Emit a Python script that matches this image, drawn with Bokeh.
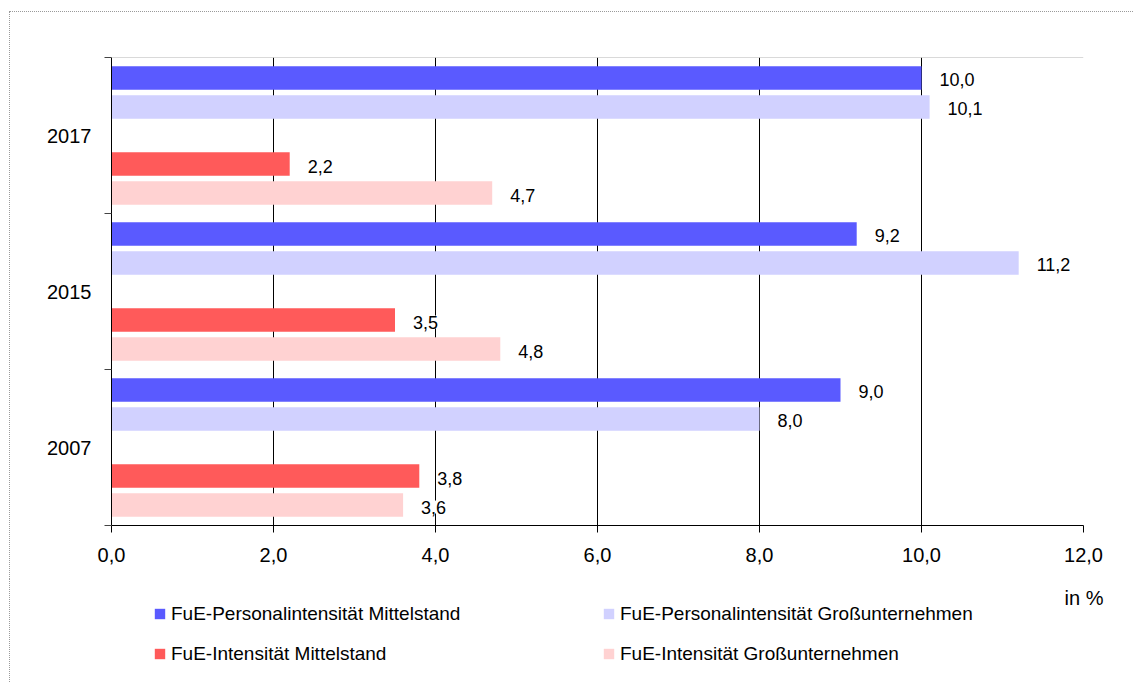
from bokeh.plotting import figure
from bokeh.layouts import column
from bokeh.models import (Range1d, FixedTicker, ColumnDataSource, LabelSet, Legend,
                          LegendItem, Span, Label, CustomJSTickFormatter)
from bokeh.core.properties import value
from bokeh.transform import dodge
from bokeh.embed import file_html
from bokeh.resources import INLINE

# ---- data ----
years = ["2007", "2015", "2017"]
pers_mittel = [9.0, 9.2, 10.0]
pers_gross = [8.0, 11.2, 10.1]
int_mittel = [3.8, 3.5, 2.2]
int_gross = [3.6, 4.8, 4.7]
series_keys = ["pers_mittel", "pers_gross", "int_mittel", "int_gross"]
series_names = ["FuE-Personalintensität Mittelstand",
                "FuE-Personalintensität Großunternehmen",
                "FuE-Intensität Mittelstand",
                "FuE-Intensität Großunternehmen"]
colors = ["#5a5aff", "#d1d1ff", "#ff5a5a", "#ffd2d2"]
x_ticks = [0, 2, 4, 6, 8, 10, 12]
unit_label = "in %"

FONT = "Liberation Sans"
BORDER = "1px dotted #9a9a9a"

def fmt(v):
    return f"{v:.1f}".replace(".", ",")

data = dict(ypos=[i + 0.5 for i in range(len(years))],
            pers_mittel=pers_mittel, pers_gross=pers_gross,
            int_mittel=int_mittel, int_gross=int_gross)
for k in series_keys:
    data[k + "_lbl"] = [fmt(v) for v in data[k]]
src = ColumnDataSource(data)

p = figure(width=1124, height=568, x_range=Range1d(0, 12), y_range=Range1d(0, 3),
           output_backend="svg", toolbar_location=None,
           min_border_left=101, min_border_right=51, min_border_top=45, min_border_bottom=55)
p.margin = (11, 0, 0, 9)
p.styles = {"border-top": BORDER, "border-left": BORDER}
p.outline_line_color = None
p.background_fill_color = "white"
p.border_fill_color = "white"

# grid
p.xgrid.ticker = FixedTicker(ticks=x_ticks)
p.xgrid.grid_line_color = "black"
p.xgrid.grid_line_width = 1
p.ygrid.grid_line_color = None

p.add_layout(Span(location=3, dimension="width", line_color="#b4b4b4", line_width=1))

# x axis
xa = p.xaxis[0]
xa.ticker = FixedTicker(ticks=x_ticks)
xa.formatter = CustomJSTickFormatter(code="return tick.toFixed(1).replace('.', ',');")
xa.major_tick_out = 7
xa.major_tick_in = 0
xa.minor_tick_line_color = None
xa.axis_line_color = "black"
xa.major_tick_line_color = "black"
xa.major_label_text_font = FONT
xa.major_label_text_font_size = "20px"
xa.major_label_text_color = "black"
xa.major_label_standoff = 15

# y axis
ya = p.yaxis[0]
ya.ticker = FixedTicker(ticks=[i + 0.5 for i in range(len(years))],
                        minor_ticks=[0, 1, 2, 3])
ya.formatter = CustomJSTickFormatter(args=dict(years=years),
                                     code="return years[Math.floor(tick)];")
ya.major_tick_out = 0
ya.major_tick_in = 0
ya.minor_tick_out = 7
ya.minor_tick_in = 0
ya.minor_tick_line_color = "#444444"
ya.axis_line_color = "black"
ya.major_label_text_font = FONT
ya.major_label_text_font_size = "20px"
ya.major_label_text_color = "black"
ya.major_label_standoff = 13

offsets = [0.369, 0.183, -0.183, -0.369]
for k, off, c in zip(series_keys, offsets, colors):
    p.hbar(y=dodge("ypos", off, range=p.y_range), left=0, right=k, height=0.15,
           fill_color=c, line_color=None, source=src)
    p.add_layout(LabelSet(x=k, y=dodge("ypos", off, range=p.y_range), text=k + "_lbl",
                          x_offset=18, y_offset=-2, text_baseline="middle", text_align="left",
                          text_font=value(FONT), text_font_size=value("18px"),
                          text_color="black",
                          background_fill_color="white", source=src))

# ---- legend strip ----
p2 = figure(width=1124, height=103, x_range=Range1d(0, 12), y_range=Range1d(10, 11),
            output_backend="svg", toolbar_location=None,
            min_border_left=0, min_border_right=0, min_border_top=0, min_border_bottom=0)
p2.frame_align = False
p2.margin = (0, 0, 0, 9)
p2.styles = {"border-left": BORDER}
p2.axis.visible = False
p2.grid.grid_line_color = None
p2.outline_line_color = None
p2.background_fill_color = "white"
p2.border_fill_color = "white"

# swatch renderers share the chart's data; they lie outside this strip's visible range
swatches = [p2.hbar(y=dodge("ypos", off, range=p2.y_range), left=0, right=k, height=0.15,
                    fill_color=c, line_color=None, source=src)
            for k, off, c in zip(series_keys, offsets, colors)]

def make_legend(idx, loc):
    leg = Legend(items=[LegendItem(label=series_names[i], renderers=[swatches[i]]) for i in idx],
                 location=loc, orientation="vertical")
    leg.border_line_color = None
    leg.background_fill_alpha = 0
    leg.padding = 0
    leg.margin = 0
    leg.spacing = 17
    leg.glyph_width = 13
    leg.glyph_height = 13
    leg.label_height = 23
    leg.label_standoff = 5
    leg.label_text_font = FONT
    leg.label_text_font_size = "19px"
    leg.label_text_color = "black"
    return leg

p2.add_layout(make_legend([0, 2], (143, 17)))
p2.add_layout(make_legend([1, 3], (592, 17)))

p2.add_layout(Label(x=1073.5, y=85, x_units="screen", y_units="screen", text=unit_label,
                    text_align="center", text_baseline="middle",
                    text_font=FONT, text_font_size="20px", text_color="black"))

layout = column(p, p2, spacing=0)
open("out.html", "w").write(file_html(layout, INLINE))
